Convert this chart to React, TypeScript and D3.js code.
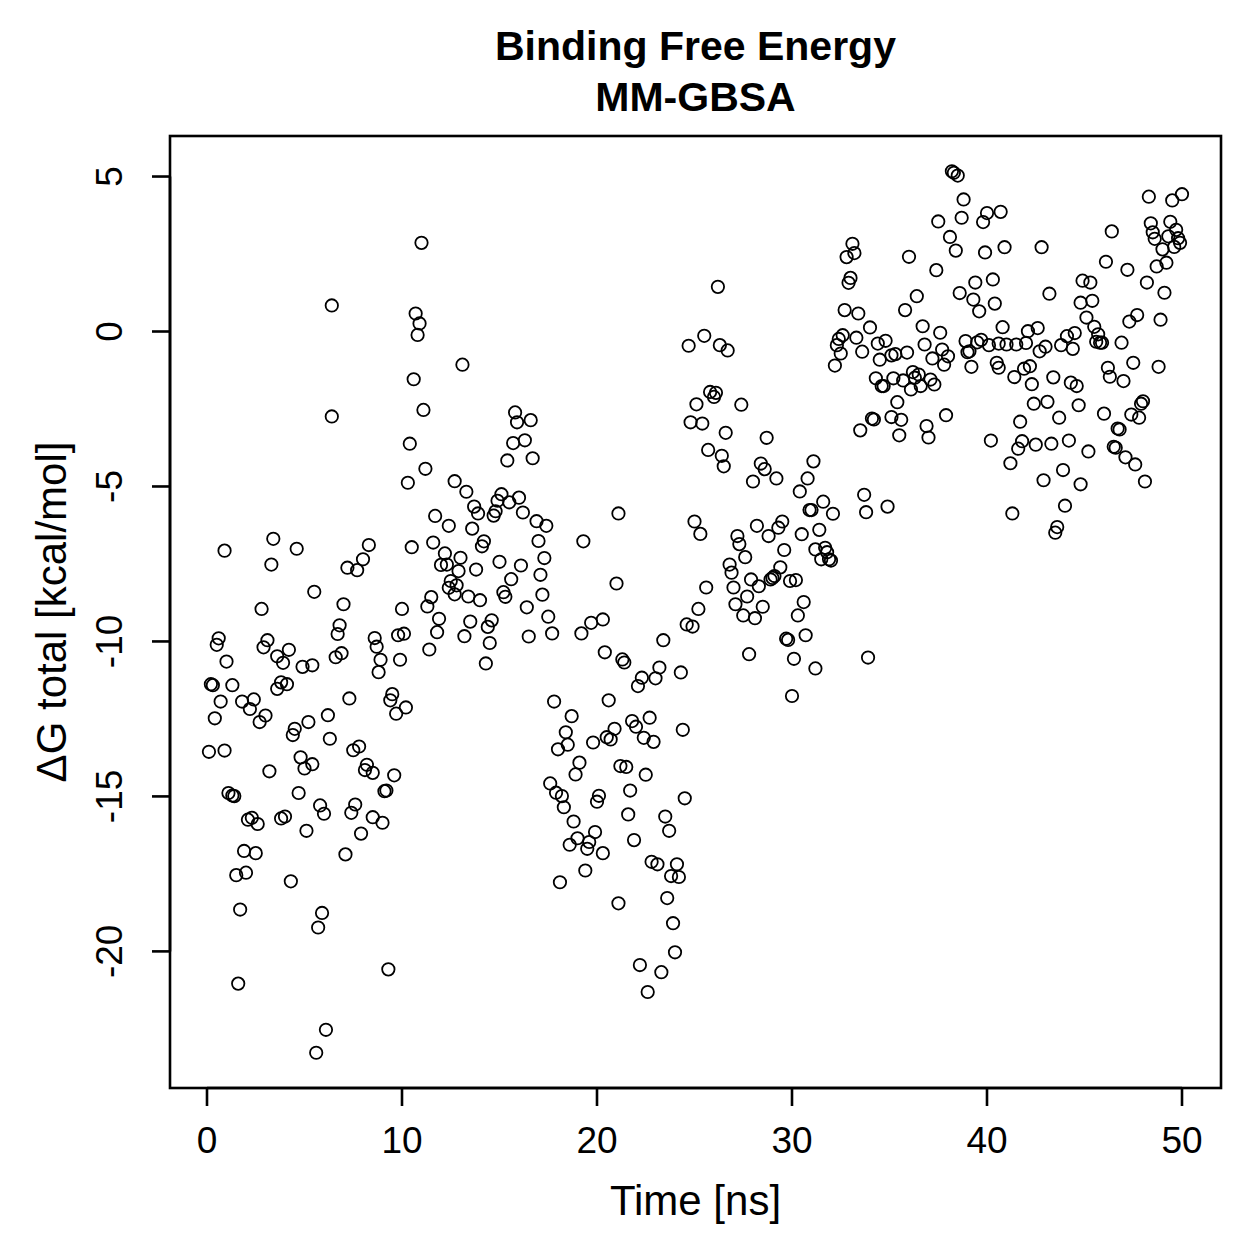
import React, { useEffect, useRef } from "react";
import * as d3 from "d3";

// MM-GBSA binding free energy per frame: [time (ns), ΔG total (kcal/mol)]
const ns0to10: [number, number][] = [
  [0.9, -7.07], [3.4, -6.69], [4.6, -7.01], [3.3, -7.52], [8.3, -6.89], [8.0, -7.35], [7.2, -7.62], [7.7, -7.70],
  [10.5, -6.96], [5.5, -8.40], [2.8, -8.95], [7.0, -8.80], [10.0, -8.95], [0.6, -9.90], [0.5, -10.11], [3.1, -9.96],
  [2.9, -10.19], [6.8, -9.48], [6.7, -9.76], [8.6, -9.89], [8.7, -10.17], [9.8, -9.80], [10.1, -9.75], [1.0, -10.65],
  [4.2, -10.27], [3.6, -10.48], [3.9, -10.69], [4.9, -10.82], [5.4, -10.77], [6.9, -10.38], [6.6, -10.51], [8.9, -10.59],
  [8.8, -10.99], [9.9, -10.59], [0.2, -11.38], [0.3, -11.41], [1.3, -11.41], [3.8, -11.32], [4.1, -11.38], [3.6, -11.53],
  [7.3, -11.84], [9.5, -11.70], [9.4, -11.90], [0.7, -11.94], [1.8, -11.94], [2.4, -11.87], [2.2, -12.18], [0.4, -12.48],
  [3.0, -12.39], [2.7, -12.60], [10.2, -12.13], [9.7, -12.33], [6.2, -12.38], [5.2, -12.60], [4.5, -12.82], [4.4, -13.02],
  [6.3, -13.14], [0.1, -13.56], [0.9, -13.52], [7.8, -13.39], [7.5, -13.51], [4.8, -13.74], [5.4, -13.96], [5.0, -14.10],
  [3.2, -14.19], [8.2, -13.98], [8.1, -14.15], [8.5, -14.24], [9.6, -14.32], [1.1, -14.89], [1.3, -14.97], [1.4, -14.99],
  [4.7, -14.89], [9.2, -14.81], [9.1, -14.83], [5.8, -15.29], [6.0, -15.56], [7.6, -15.26], [7.4, -15.53], [2.1, -15.75],
  [2.3, -15.69], [2.6, -15.89], [3.8, -15.71], [4.0, -15.65], [8.5, -15.67], [9.0, -15.85], [5.1, -16.11], [7.9, -16.20],
  [1.9, -16.76], [2.5, -16.83], [7.1, -16.87], [1.5, -17.54], [2.0, -17.46], [4.3, -17.74], [1.7, -18.65], [5.9, -18.76],
  [5.7, -19.23], [9.3, -20.58], [1.6, -21.04], [6.1, -22.53], [5.6, -23.27], [6.4, 0.84], [6.4, -2.74],
];

const ns10to18: [number, number][] = [
  [11.0, 2.86], [10.7, 0.58], [10.9, 0.26], [10.8, -0.11], [13.1, -1.07], [10.6, -1.54], [11.1, -2.53], [10.4, -3.62],
  [15.8, -2.61], [15.9, -2.93], [16.6, -2.86], [15.7, -3.60], [16.3, -3.51], [15.4, -4.16], [16.7, -4.09], [11.2, -4.43],
  [10.3, -4.88], [12.7, -4.83], [13.3, -5.17], [15.1, -5.25], [14.9, -5.46], [15.5, -5.51], [16.0, -5.36], [13.7, -5.65],
  [13.9, -5.87], [14.8, -5.80], [14.7, -5.94], [16.2, -5.84], [16.9, -6.12], [17.4, -6.27], [11.7, -5.95], [12.4, -6.27],
  [13.6, -6.36], [11.6, -6.81], [14.2, -6.77], [14.1, -6.93], [17.0, -6.76], [12.2, -7.16], [13.0, -7.30], [12.0, -7.53],
  [12.3, -7.52], [12.9, -7.73], [13.8, -7.68], [15.0, -7.43], [16.1, -7.55], [17.3, -7.31], [17.1, -7.85], [15.6, -7.99],
  [12.5, -8.05], [12.4, -8.27], [12.8, -8.19], [12.7, -8.48], [11.5, -8.57], [11.3, -8.87], [13.4, -8.55], [14.0, -8.67],
  [15.2, -8.41], [15.3, -8.56], [17.2, -8.49], [16.4, -8.90], [11.9, -9.27], [13.5, -9.36], [14.6, -9.32], [14.4, -9.53],
  [17.5, -9.20], [11.8, -9.70], [13.2, -9.83], [14.5, -10.05], [16.5, -9.84], [17.7, -9.74], [11.4, -10.26], [14.3, -10.71],
];

const ns17to25: [number, number][] = [
  [19.2, -9.74], [19.7, -9.40], [20.3, -9.29], [23.4, -9.96], [24.6, -9.45], [24.9, -9.52], [20.4, -10.35], [21.3, -10.58],
  [21.4, -10.68], [23.2, -10.84], [22.3, -11.17], [23.0, -11.19], [22.1, -11.44], [24.3, -11.00], [17.8, -11.94], [20.6, -11.90],
  [18.7, -12.41], [22.7, -12.46], [21.8, -12.57], [22.0, -12.75], [20.9, -12.82], [20.5, -13.09], [20.7, -13.16], [18.4, -12.93],
  [18.5, -13.33], [18.0, -13.48], [19.8, -13.26], [22.4, -13.11], [22.9, -13.24], [24.4, -12.85], [19.1, -13.91], [18.9, -14.29],
  [21.2, -14.02], [21.5, -14.05], [22.5, -14.30], [17.6, -14.58], [17.9, -14.88], [18.2, -14.99], [18.3, -15.35], [20.1, -14.98],
  [20.0, -15.17], [21.7, -14.81], [24.5, -15.06], [21.6, -15.58], [23.5, -15.65], [18.8, -15.81], [19.9, -16.15], [19.0, -16.35],
  [19.6, -16.47], [18.6, -16.56], [19.5, -16.69], [20.3, -16.83], [21.9, -16.41], [23.7, -16.11], [19.4, -17.39], [18.1, -17.77],
  [22.8, -17.11], [23.1, -17.19], [24.1, -17.19], [23.8, -17.57], [24.2, -17.60], [21.1, -18.45], [23.6, -18.28], [23.9, -19.09],
  [24.0, -20.03], [22.2, -20.44], [23.3, -20.67], [22.6, -21.31], [19.3, -6.77], [21.0, -8.13], [21.1, -5.87],
];

const ns24to34: [number, number][] = [
  [26.2, 1.44], [24.7, -0.46], [25.5, -0.14], [26.3, -0.44], [26.7, -0.61], [25.8, -1.95], [26.1, -1.98], [26.0, -2.11],
  [25.1, -2.35], [27.4, -2.36], [24.8, -2.93], [25.4, -2.97], [26.6, -3.27], [28.7, -3.43], [25.7, -3.82], [26.4, -4.01],
  [26.5, -4.35], [28.4, -4.26], [28.6, -4.44], [28.0, -4.84], [29.2, -4.74], [31.1, -4.19], [30.8, -4.74], [30.4, -5.16],
  [31.6, -5.49], [32.1, -5.88], [30.9, -5.76], [31.0, -5.76], [25.0, -6.13], [25.3, -6.53], [28.2, -6.27], [28.8, -6.60],
  [29.3, -6.33], [29.5, -6.13], [27.2, -6.60], [27.3, -6.86], [27.6, -7.28], [30.5, -6.54], [31.4, -6.40], [29.6, -7.05],
  [31.2, -7.03], [31.7, -6.98], [31.8, -7.12], [31.5, -7.35], [31.9, -7.35], [32.0, -7.39], [26.8, -7.52], [26.9, -7.78],
  [29.4, -7.61], [27.9, -8.00], [28.3, -8.22], [28.9, -8.00], [29.0, -7.95], [29.1, -7.89], [29.9, -8.05], [30.2, -8.02],
  [25.6, -8.26], [27.0, -8.26], [27.7, -8.55], [27.1, -8.80], [28.5, -8.88], [25.2, -8.95], [30.6, -8.73], [27.5, -9.16],
  [28.1, -9.25], [30.3, -9.16], [29.7, -9.91], [29.8, -9.95], [30.7, -9.80], [27.8, -10.41], [30.1, -10.56], [31.2, -10.87],
  [30.0, -11.76], [33.9, -10.52],
];

const ns32to41: [number, number][] = [
  [38.2, 5.17], [38.3, 5.12], [38.5, 5.03], [38.8, 4.26], [37.5, 3.55], [38.7, 3.67], [40.0, 3.82], [39.8, 3.53],
  [40.7, 3.86], [38.1, 3.05], [38.4, 2.61], [39.9, 2.55], [40.9, 2.72], [33.1, 2.83], [32.8, 2.40], [33.2, 2.53],
  [36.0, 2.41], [37.4, 1.98], [33.0, 1.73], [32.9, 1.57], [39.4, 1.58], [40.3, 1.68], [38.6, 1.24], [39.3, 1.03],
  [39.6, 0.65], [40.4, 0.90], [36.4, 1.14], [35.8, 0.69], [32.7, 0.69], [33.4, 0.58], [34.0, 0.13], [36.7, 0.17],
  [37.6, -0.04], [40.8, 0.14], [32.6, -0.12], [32.4, -0.24], [32.3, -0.44], [32.5, -0.71], [32.2, -1.10], [33.3, -0.20],
  [33.6, -0.65], [34.4, -0.39], [34.8, -0.30], [34.5, -0.91], [35.1, -0.77], [35.3, -0.73], [35.9, -0.68], [36.8, -0.42],
  [37.7, -0.58], [38.0, -0.80], [37.2, -0.87], [37.8, -1.07], [38.9, -0.31], [39.0, -0.67], [39.1, -0.64], [39.5, -0.35],
  [39.7, -0.27], [40.1, -0.44], [39.2, -1.14], [40.5, -1.01], [40.6, -1.17], [34.3, -1.51], [34.6, -1.76], [34.7, -1.76],
  [35.2, -1.51], [35.7, -1.58], [36.2, -1.31], [36.5, -1.39], [36.3, -1.49], [36.6, -1.76], [36.1, -1.87], [37.1, -1.55],
  [37.3, -1.71], [35.4, -2.28], [34.1, -2.81], [34.2, -2.84], [33.5, -3.19], [35.1, -2.76], [35.6, -2.85], [35.5, -3.35],
  [36.9, -3.05], [37.0, -3.42], [37.9, -2.70], [40.2, -3.52], [33.7, -5.27], [33.8, -5.83], [34.9, -5.65],
];

const ns40to50: [number, number][] = [
  [42.8, 2.72], [46.4, 3.23], [48.3, 4.35], [49.5, 4.23], [50.0, 4.43], [48.4, 3.49], [48.5, 3.20], [48.6, 2.99],
  [49.4, 3.54], [49.7, 3.28], [49.3, 3.07], [49.8, 3.01], [49.9, 2.86], [49.6, 2.73], [49.0, 2.65], [46.1, 2.25],
  [47.2, 1.99], [48.7, 2.10], [49.2, 2.22], [48.2, 1.58], [49.1, 1.25], [43.2, 1.22], [44.9, 1.64], [45.3, 1.58],
  [44.8, 0.93], [45.4, 0.99], [45.1, 0.45], [47.3, 0.32], [47.7, 0.53], [48.9, 0.38], [42.1, 0.01], [42.6, 0.11],
  [44.1, -0.15], [44.5, -0.05], [45.5, 0.15], [45.7, -0.09], [45.6, -0.33], [45.8, -0.36], [45.9, -0.36], [46.9, -0.36],
  [40.6, -0.39], [41.0, -0.42], [41.5, -0.42], [42.0, -0.37], [42.7, -0.64], [43.0, -0.49], [43.8, -0.44], [44.4, -0.56],
  [47.5, -1.01], [48.8, -1.14], [46.2, -1.17], [46.3, -1.46], [47.0, -1.60], [41.9, -1.20], [42.2, -1.12], [41.4, -1.47],
  [42.3, -1.70], [43.4, -1.48], [44.3, -1.65], [44.6, -1.76], [42.4, -2.33], [43.1, -2.27], [44.7, -2.38], [46.0, -2.65],
  [47.4, -2.68], [47.8, -2.78], [47.9, -2.33], [48.0, -2.25], [41.7, -2.91], [43.7, -2.78], [46.7, -3.13], [46.8, -3.16],
  [41.8, -3.54], [41.6, -3.78], [42.5, -3.65], [43.3, -3.62], [44.2, -3.52], [45.2, -3.87], [46.5, -3.72], [46.6, -3.75],
  [47.1, -4.06], [47.6, -4.29], [41.2, -4.25], [43.9, -4.47], [42.9, -4.80], [44.8, -4.93], [48.1, -4.84], [44.0, -5.62],
  [41.3, -5.87], [43.6, -6.31], [43.5, -6.49],
];

const timeRange: [number, number] = [0, 50];
const xTicks = [0, 10, 20, 30, 40, 50];
const yTicks = [5, 0, -5, -10, -15, -20];
const titleLines = ["Binding Free Energy", "MM-GBSA"];
const xLabel = "Time [ns]";
const yLabel = "ΔG total [kcal/mol]";

const W = 1259;
const H = 1259;
const box = { left: 170, right: 1221, top: 136, bottom: 1088 };
const FONT = "'Liberation Sans', Arial, Helvetica, sans-serif";

// base R style: axis limits extend 4% past the data on each side
const padRange = (lo: number, hi: number): [number, number] => {
  const d = (hi - lo) * 0.04;
  return [lo - d, hi + d];
};

export default function App() {
  const svgRef = useRef<SVGSVGElement>(null);

  useEffect(() => {
    if (!svgRef.current) return;
    const svg = d3.select(svgRef.current);
    svg.selectAll("*").remove();

    const points = [...ns0to10, ...ns10to18, ...ns17to25, ...ns24to34, ...ns32to41, ...ns40to50]
      .map(([t, g]) => ({ t, g }));

    const x = d3.scaleLinear().domain(padRange(timeRange[0], timeRange[1])).range([box.left - 2, box.right]);
    const [gMin, gMax] = d3.extent(points, d => d.g) as [number, number];
    const y = d3.scaleLinear().domain(padRange(gMin, gMax)).range([box.bottom, box.top]);

    // points (open circles, pch = 1)
    svg.append("g")
      .selectAll("circle")
      .data(points)
      .enter()
      .append("circle")
      .attr("cx", d => x(d.t))
      .attr("cy", d => y(d.g))
      .attr("r", 6.2)
      .attr("fill", "none")
      .attr("stroke", "#000")
      .attr("stroke-width", 1.8);

    // plot frame
    svg.append("rect")
      .attr("x", box.left).attr("y", box.top)
      .attr("width", box.right - box.left).attr("height", box.bottom - box.top)
      .attr("fill", "none").attr("stroke", "#000").attr("stroke-width", 2.6);

    const tickLen = 18;

    // x axis
    const gx = svg.append("g");
    gx.append("line")
      .attr("x1", x(xTicks[0])).attr("x2", x(xTicks[xTicks.length - 1]))
      .attr("y1", box.bottom).attr("y2", box.bottom)
      .attr("stroke", "#000").attr("stroke-width", 2.6);
    xTicks.forEach(v => {
      gx.append("line")
        .attr("x1", x(v)).attr("x2", x(v))
        .attr("y1", box.bottom).attr("y2", box.bottom + tickLen)
        .attr("stroke", "#000").attr("stroke-width", 2.6);
      gx.append("text")
        .attr("x", x(v)).attr("y", box.bottom + 65)
        .attr("text-anchor", "middle")
        .attr("font-family", FONT).attr("font-size", 37)
        .text(v);
    });

    // y axis, labels rotated as in base R (las = 0)
    const gy = svg.append("g");
    gy.append("line")
      .attr("x1", box.left).attr("x2", box.left)
      .attr("y1", y(yTicks[0])).attr("y2", y(yTicks[yTicks.length - 1]))
      .attr("stroke", "#000").attr("stroke-width", 2.6);
    yTicks.forEach(v => {
      gy.append("line")
        .attr("x1", box.left - tickLen).attr("x2", box.left)
        .attr("y1", y(v)).attr("y2", y(v))
        .attr("stroke", "#000").attr("stroke-width", 2.6);
      gy.append("text")
        .attr("transform", `translate(${box.left - 48},${y(v)}) rotate(-90)`)
        .attr("text-anchor", "middle")
        .attr("font-family", FONT).attr("font-size", 37)
        .text(v);
    });

    // axis titles
    svg.append("text")
      .attr("x", (box.left + box.right) / 2).attr("y", box.bottom + 127)
      .attr("text-anchor", "middle")
      .attr("font-family", FONT).attr("font-size", 42)
      .text(xLabel);
    svg.append("text")
      .attr("transform", `translate(${box.left - 104},${(box.top + box.bottom) / 2}) rotate(-90)`)
      .attr("text-anchor", "middle")
      .attr("font-family", FONT).attr("font-size", 42)
      .text(yLabel);

    // main title
    titleLines.forEach((line, i) => {
      svg.append("text")
        .attr("x", (box.left + box.right) / 2).attr("y", 60 + i * 51)
        .attr("text-anchor", "middle")
        .attr("font-family", FONT).attr("font-size", 41).attr("font-weight", "bold")
        .text(line);
    });
  }, []);

  return (
    <div style={{ position: "absolute", left: 0, top: 0, background: "#fff" }}>
      <svg ref={svgRef} width={W} height={H} style={{ display: "block", background: "#fff" }} />
    </div>
  );
}
